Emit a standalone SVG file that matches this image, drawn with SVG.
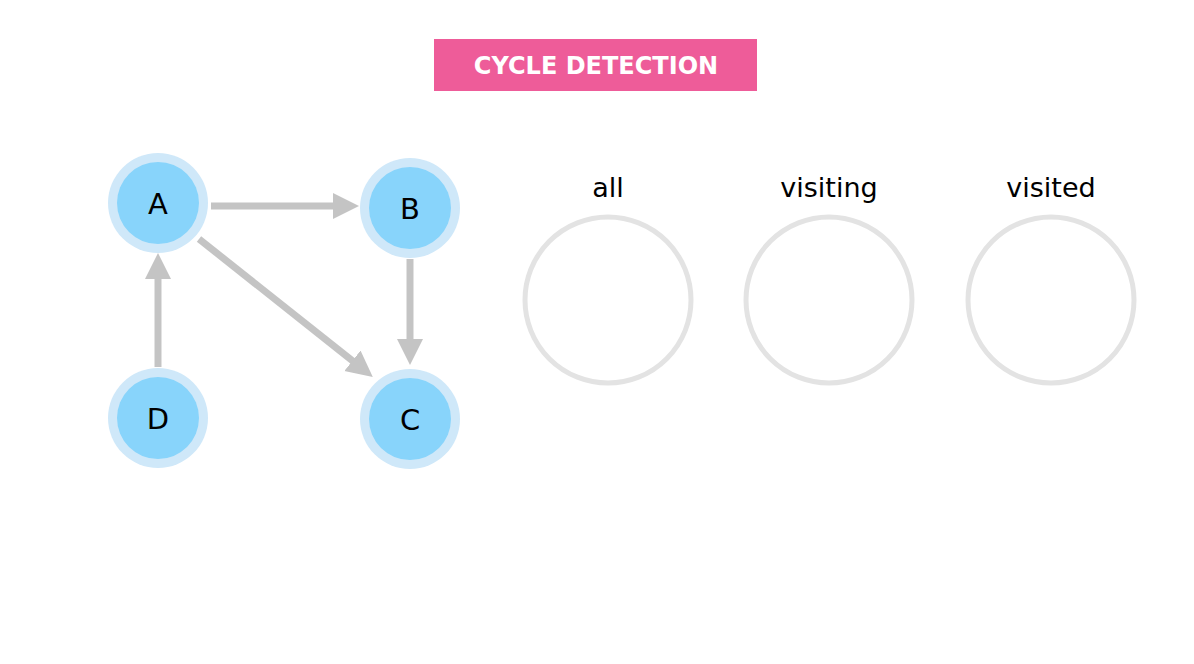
<svg xmlns="http://www.w3.org/2000/svg" width="1194" height="664" viewBox="0 0 1194 664">
<defs>
<style>
.outer{fill:#CFE8F9}
.inner{fill:#88D4FB}
.lbl{font-family:"DejaVu Sans","Liberation Sans",sans-serif;font-size:29px;fill:#000;text-anchor:middle;dominant-baseline:central}
.edge{stroke:#C4C4C4;stroke-width:7;fill:none}
.set{fill:none;stroke:#E3E3E3;stroke-width:5}
.setlbl{font-family:"DejaVu Sans","Liberation Sans",sans-serif;font-size:27px;fill:#000;text-anchor:middle}
</style>
<marker id="ah" markerUnits="userSpaceOnUse" markerWidth="26" markerHeight="28" refX="2" refY="14" orient="auto" viewBox="0 0 26 28">
<path d="M0,1 L26,14 L0,27 Z" fill="#C4C4C4"/>
</marker>
</defs>
<rect width="1194" height="664" fill="#fff"/>
<g id="title">
<rect x="434" y="39" width="323" height="52" fill="#EE5C99"/>
<text x="596" y="74" font-family="'DejaVu Sans','Liberation Sans',sans-serif" font-size="24" font-weight="bold" fill="#fff" text-anchor="middle">CYCLE DETECTION</text>
</g>
<g id="connectors">
<line class="edge" x1="211" y1="206" x2="335" y2="206" marker-end="url(#ah)"/>
<line class="edge" x1="158" y1="367" x2="158" y2="277" marker-end="url(#ah)"/>
<line class="edge" x1="410" y1="259" x2="410" y2="341" marker-end="url(#ah)"/>
<line class="edge" x1="199" y1="239" x2="354" y2="362" marker-end="url(#ah)"/>
</g>
<g id="node-A">
<circle class="outer" cx="158" cy="203" r="50"/>
<circle class="inner" cx="158" cy="203" r="41"/>
<text class="lbl" x="158" y="204">A</text>
</g>
<g id="node-B">
<circle class="outer" cx="410" cy="208" r="50"/>
<circle class="inner" cx="410" cy="208" r="41"/>
<text class="lbl" x="410" y="209">B</text>
</g>
<g id="node-D">
<circle class="outer" cx="158" cy="418" r="50"/>
<circle class="inner" cx="158" cy="418" r="41"/>
<text class="lbl" x="158" y="419">D</text>
</g>
<g id="node-C">
<circle class="outer" cx="410" cy="419" r="50"/>
<circle class="inner" cx="410" cy="419" r="41"/>
<text class="lbl" x="410" y="420">C</text>
</g>
<g id="set-all">
<text class="setlbl" x="608" y="197">all</text>
<circle class="set" cx="608" cy="300" r="83"/>
</g>
<g id="set-visiting">
<text class="setlbl" x="829" y="197">visiting</text>
<circle class="set" cx="829" cy="300" r="83"/>
</g>
<g id="set-visited">
<text class="setlbl" x="1051" y="197">visited</text>
<circle class="set" cx="1051" cy="300" r="83"/>
</g>
</svg>
